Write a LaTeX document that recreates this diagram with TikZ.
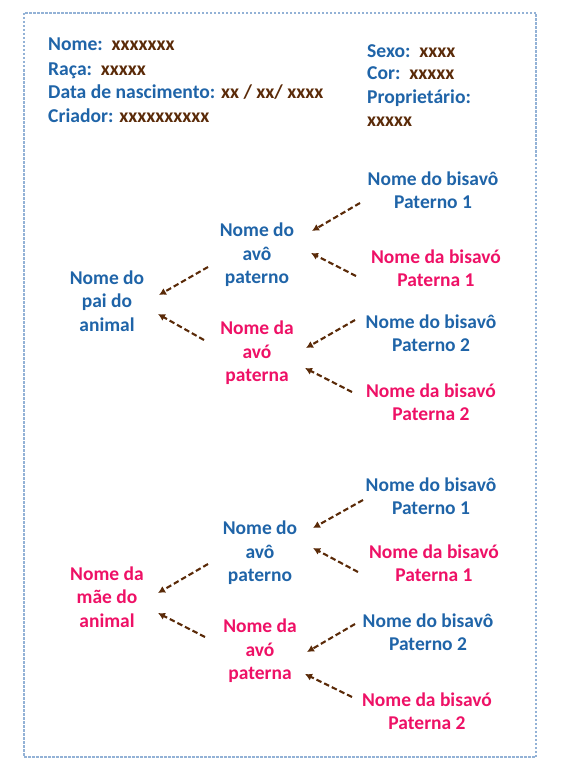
\documentclass[tikz,border=0pt]{standalone}
\usepackage{fontspec}
\setmainfont{Carlito}
\usetikzlibrary{calc,arrows.meta}
\definecolor{tblue}{HTML}{1F64A8}
\definecolor{tpink}{HTML}{EE1166}
\definecolor{tbrown}{HTML}{5A2A08}
\definecolor{framec}{HTML}{93B2D6}
\begin{document}
\begin{tikzpicture}[x=1pt,y=-1pt,
  lbl/.style={font=\fontsize{19.5}{23.5}\selectfont\bfseries, align=center, inner sep=0pt},
  bl/.style={lbl,text=tblue},
  pk/.style={lbl,text=tpink},
  hd/.style={font=\fontsize{19.6}{23.5}\selectfont\bfseries, anchor=base west, inner sep=0pt, text=tblue},
  arr/.style={draw=tbrown, line width=2.1pt, dash pattern=on 5.5pt off 3pt, -{Latex[length=7pt,width=7.5pt]}},
]
\useasboundingbox (0,0) rectangle (560,768);
\draw[draw=framec, line width=1.1pt, dash pattern=on 2.5pt off 1.5pt] (24,13) rectangle (536,757);

% header
\node[hd] (nome) at (48,51) {Nome:\ \ \textcolor{tbrown}{xxxxxxx}};
\node[hd] (raca) at (48,75) {Raça:\ \ \textcolor{tbrown}{xxxxx}};
\node[hd] (data) at (48,98) {Data de nascimento: \textcolor{tbrown}{xx / xx/ xxxx}};
\node[hd] (criador) at (48,122) {Criador: \textcolor{tbrown}{xxxxxxxxxx}};
\node[hd] (sexo) at (367,57) {Sexo:\ \ \textcolor{tbrown}{xxxx}};
\node[hd] (cor) at (367,80) {Cor:\ \ \textcolor{tbrown}{xxxxx}};
\node[hd] (prop) at (367,103) {Proprietário:};
\node[hd] (propv) at (367,126) {\textcolor{tbrown}{xxxxx}};

% upper tree
\node[bl] (uA1) at (433,190) {Nome do bisavô\\Paterno 1};
\node[pk] (uB1) at (436,268) {Nome da bisavó\\Paterna 1};
\node[bl] (uavoA) at (257,255) {Nome do\\avô\\paterno};
\node[bl] (pai) at (107,301) {Nome do\\pai do\\animal};
\node[pk] (uavoB) at (257,353) {Nome da\\avó\\paterna};
\node[bl] (uA2) at (431,333) {Nome do bisavô\\Paterno 2};
\node[pk] (uB2) at (431,402) {Nome da bisavó\\Paterna 2};

\draw[arr] ($(uA1)+(-73,13)$) -- ($(uavoA)+(55,-24)$);
\draw[arr] ($(uB1)+(-80,8)$) -- ($(uavoA)+(54,-2)$);
\draw[arr] ($(uavoA)+(-49,12)$) -- ($(pai)+(52,-6)$);
\draw[arr] ($(uavoB)+(-53,-13)$) -- ($(pai)+(51,13)$);
\draw[arr] ($(uA2)+(-76,-13)$) -- ($(uavoB)+(49,-5)$);
\draw[arr] ($(uB2)+(-79,-10)$) -- ($(uavoB)+(48,15)$);

% lower tree
\node[bl] (lA1) at (431,496) {Nome do bisavô\\Paterno 1};
\node[pk] (lB1) at (434,563) {Nome da bisavó\\Paterna 1};
\node[bl] (lavoA) at (260,553) {Nome do\\avô\\paterno};
\node[pk] (mae) at (107,597) {Nome da\\mãe do\\animal};
\node[pk] (lavoB) at (260,651) {Nome da\\avó\\paterna};
\node[bl] (lA2) at (428,632) {Nome do bisavô\\Paterno 2};
\node[pk] (lB2) at (427,711) {Nome da bisavó\\Paterna 2};

\draw[arr] ($(lA1)+(-68,4)$) -- ($(lavoA)+(53,-25)$);
\draw[arr] ($(lB1)+(-76,9)$) -- ($(lavoA)+(53,-5)$);
\draw[arr] ($(lavoA)+(-52,11)$) -- ($(mae)+(51,-4)$);
\draw[arr] ($(lavoB)+(-55,-14)$) -- ($(mae)+(51,16)$);
\draw[arr] ($(lA2)+(-73,-8)$) -- ($(lavoB)+(47,1)$);
\draw[arr] ($(lB2)+(-75,-14)$) -- ($(lavoB)+(45,23)$);
\end{tikzpicture}
\end{document}
